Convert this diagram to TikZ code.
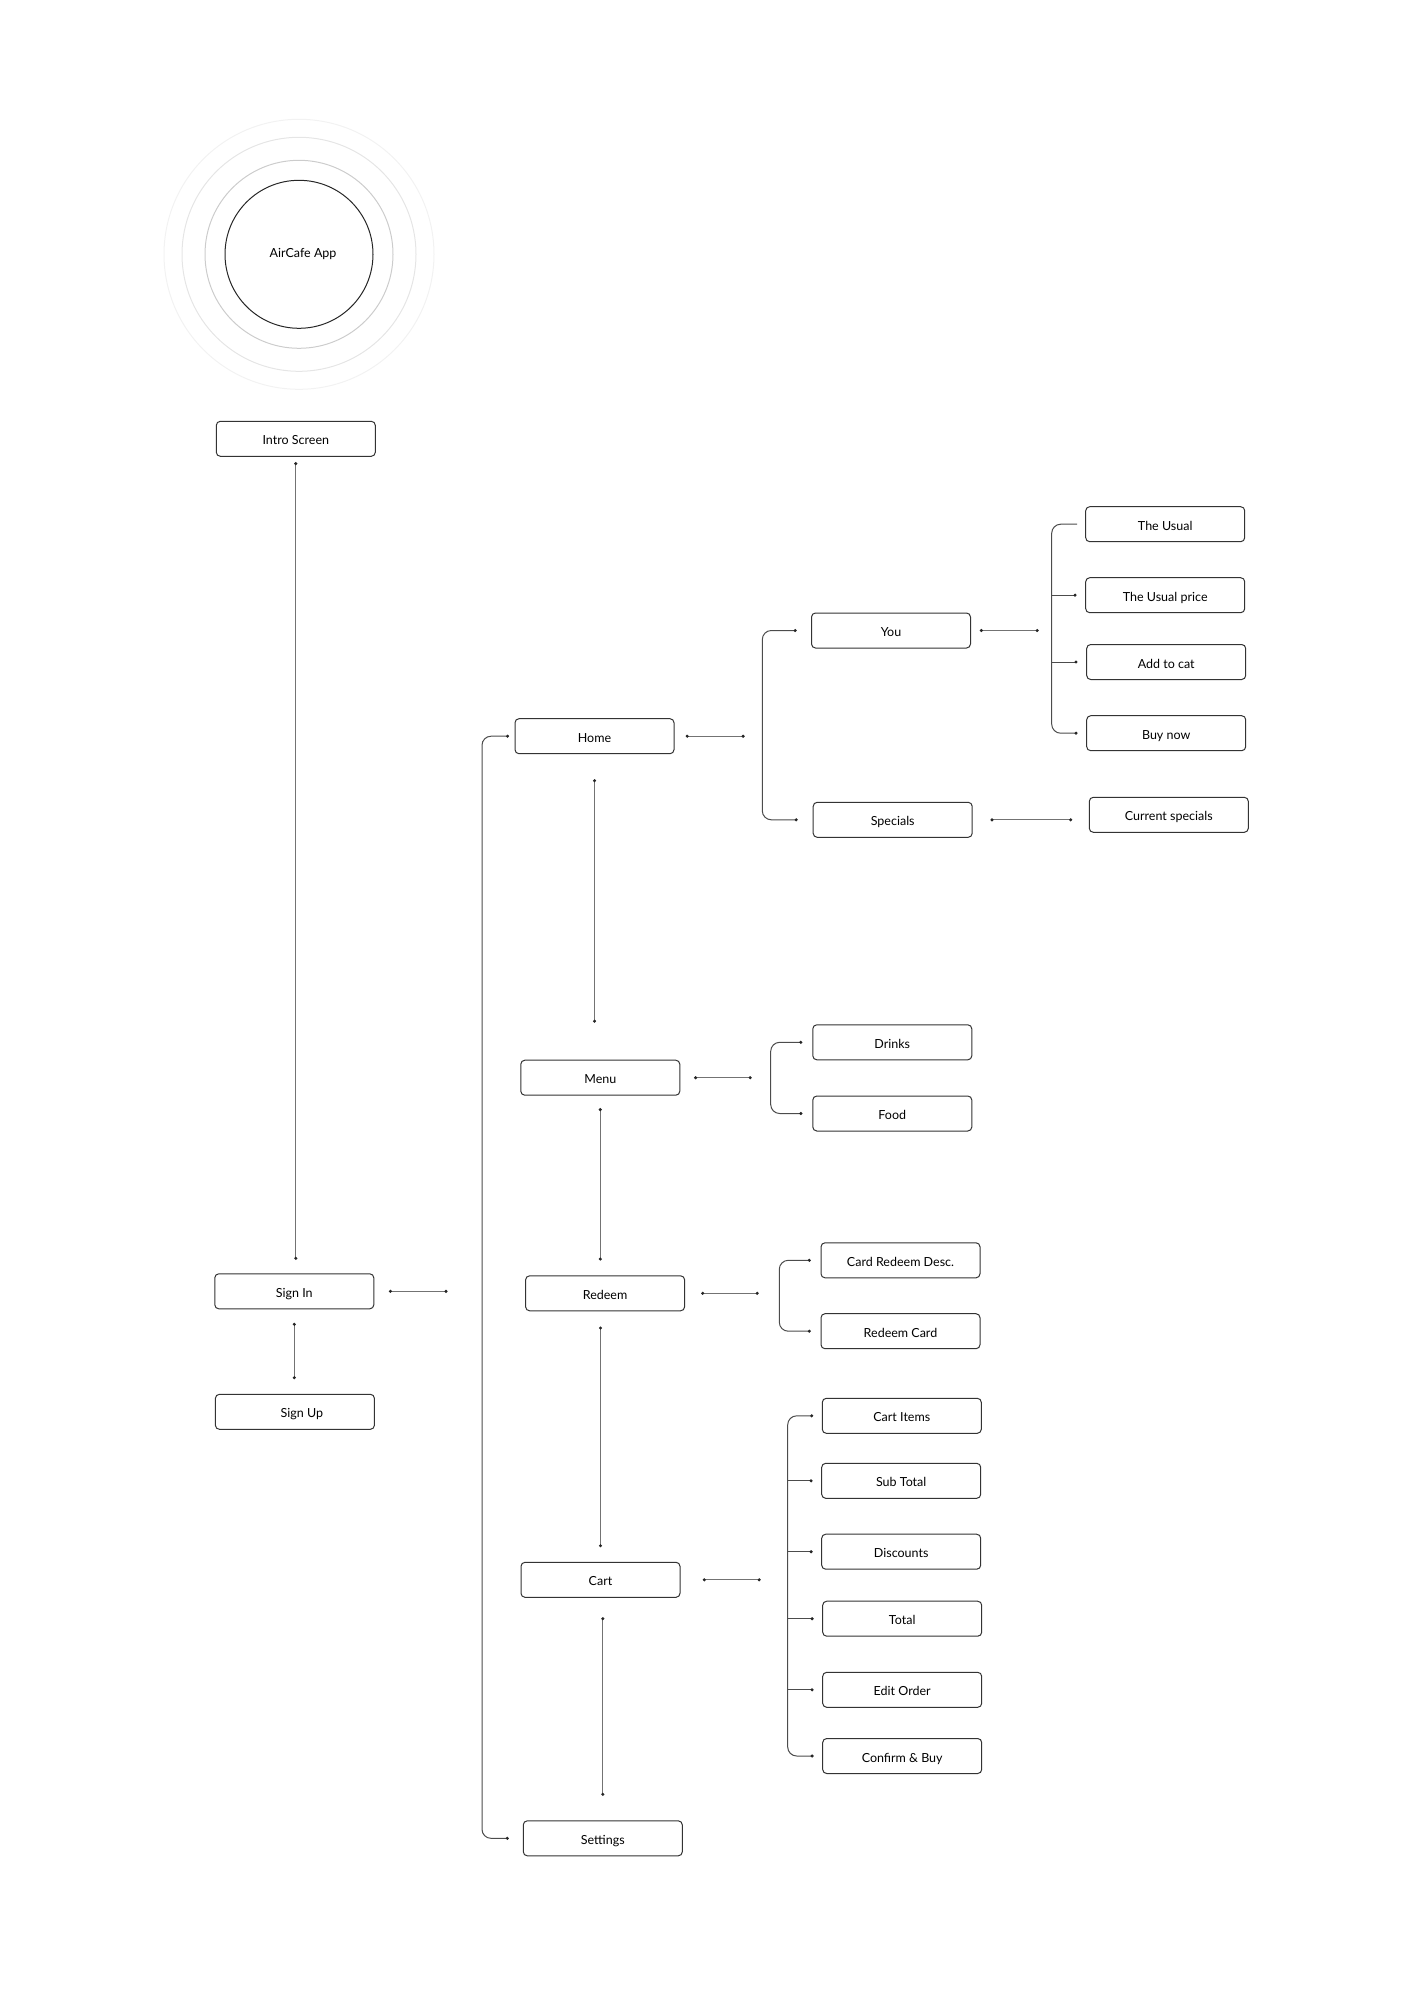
\documentclass[tikz,border=0pt]{standalone}
\usepackage{fontspec}
\setmainfont{Lato}
\usetikzlibrary{arrows.meta}

\begin{document}
\begin{tikzpicture}
[every node/.style={inner sep=0pt, font=\fontsize{12.5}{15}\selectfont},
 screen/.style={rectangle, rounded corners=4pt, minimum width=159pt, minimum height=35pt, text height=12pt, text depth=0pt, fill=white, line width=1pt, draw=black!80},
 link/.style={line width=1pt, color=black!55, {Circle[length=3pt, color=black!85]}-{Circle[length=3pt, color=black!85]}},
 branch/.style={line width=1pt, color=black!70, rounded corners=9pt, -{Circle[length=3pt, color=black!85]}},
 ring/.style={line width=1pt}]
\useasboundingbox (0pt, 0pt) rectangle (1401pt, -2010pt);
% app circle
\node (app) [circle, minimum size=148pt, line width=1pt, draw=black!85] at (299pt, -254.3pt) {\hspace*{8pt}AirCafe App};
\draw [ring, color=black!20] (app.center) circle (94pt);
\draw [ring, color=black!10] (app.center) circle (117pt);
\draw [ring, color=black!5] (app.center) circle (135pt);
% screens
\node (intro) [screen] at (295.8pt, -438.8pt) {Intro Screen};
\node (signin) [screen] at (294.3pt, -1291.3pt) {Sign In};
\node (signup) [screen] at (294.9pt, -1411.8pt) {\hspace*{14pt}Sign Up};
\node (home) [screen] at (594.5pt, -736.2pt) {Home};
\node (menu) [screen] at (600.3pt, -1077.7pt) {Menu};
\node (redeem) [screen] at (605.1pt, -1293.3pt) {Redeem};
\node (cart) [screen] at (600.5pt, -1579.8pt) {Cart};
\node (settings) [screen] at (602.8pt, -1838.3pt) {Settings};
\node (you) [screen] at (891pt, -630.5pt) {You};
\node (specials) [screen] at (892.7pt, -819.8pt) {Specials};
\node (usual) [screen] at (1165.2pt, -524.2pt) {The Usual};
\node (usualprice) [screen] at (1165.2pt, -595.2pt) {The Usual price};
\node (addcart) [screen] at (1166.2pt, -662pt) {Add to cat};
\node (buynow) [screen] at (1166.2pt, -733.2pt) {Buy now};
\node (current) [screen] at (1168.8pt, -814.8pt) {Current specials};
\node (drinks) [screen] at (892.3pt, -1042.3pt) {Drinks};
\node (food) [screen] at (892.3pt, -1113.5pt) {Food};
\node (carddesc) [screen] at (900.5pt, -1260.3pt) {Card Redeem Desc.};
\node (redeemcard) [screen] at (900.5pt, -1331.2pt) {Redeem Card};
\node (cartitems) [screen] at (901.8pt, -1415.8pt) {Cart Items};
\node (subtotal) [screen] at (901.2pt, -1480.8pt) {Sub Total};
\node (discounts) [screen] at (901.2pt, -1551.7pt) {Discounts};
\node (total) [screen] at (902.2pt, -1618.7pt) {Total};
\node (editorder) [screen] at (902.2pt, -1689.8pt) {Edit Order};
\node (confirm) [screen] at (902.2pt, -1756pt) {Confirm \& Buy};
% bracket spines
\coordinate (mainbus) at (482pt, -1292pt);
\coordinate (homebus) at (762.3pt, -736.2pt);
\coordinate (youbus) at (1051.7pt, -630.5pt);
\coordinate (menubus) at (770.7pt, -1077.7pt);
\coordinate (redeembus) at (779.3pt, -1293.3pt);
\coordinate (cartbus) at (787.7pt, -1579.8pt);
% vertical links
\draw [link, shorten <=5.3pt, shorten >=13.5pt] (intro.south) -- (intro.south |- signin.north);
\draw [link, shorten <=13.5pt, shorten >=14.6pt] (signin.south) -- (signin.south |- signup.north);
\draw [link, shorten <=25pt, shorten >=37pt] (home.south) -- (home.south |- menu.north);
\draw [link, shorten <=12.4pt, shorten >=14.8pt] (menu.south) -- (menu.south |- redeem.north);
\draw [link, shorten <=15.2pt, shorten >=14.6pt] (redeem.south -| cart.north) -- (cart.north);
\draw [link, shorten <=19.4pt, shorten >=24.5pt] (cart.south -| settings.north) -- (settings.north);
% horizontal links
\draw [link, shorten <=14.6pt, shorten >=34.5pt] (signin.east) -- (signin.east -| mainbus);
\draw [link, shorten <=11.2pt, shorten >=17.7pt] (home.east) -- (home.east -| homebus);
\draw [link, shorten <=8.8pt, shorten >=13pt] (you.east) -- (you.east -| youbus);
\draw [link, shorten <=17.8pt, shorten >=16.6pt] (specials.east) -- (specials.east -| current.west);
\draw [link, shorten <=13.8pt, shorten >=19pt] (menu.east) -- (menu.east -| menubus);
\draw [link, shorten <=16.1pt, shorten >=20.6pt] (redeem.east) -- (redeem.east -| redeembus);
\draw [link, shorten <=22.3pt, shorten >=27pt] (cart.east) -- (cart.east -| cartbus);
% brackets
\draw [branch, {Circle[length=3pt, color=black!85]}-{Circle[length=3pt, color=black!85]}] ([xshift=-5.5pt]home.west) -| (mainbus) |- ([xshift=-14pt]settings.west);
\draw [branch, {Circle[length=3pt, color=black!85]}-{Circle[length=3pt, color=black!85]}] ([xshift=-14.3pt]you.west) -| (homebus) |- ([xshift=-15pt]specials.west);
\draw [branch] ([xshift=-8pt]usual.west) -| (youbus) |- ([xshift=-8.7pt]buynow.west);
\draw [branch] (youbus |- usualprice) -- ([xshift=-8.7pt]usualprice.west);
\draw [branch] (youbus |- addcart) -- ([xshift=-8.7pt]addcart.west);
\draw [branch, {Circle[length=3pt, color=black!85]}-{Circle[length=3pt, color=black!85]}] ([xshift=-10pt]drinks.west) -| (menubus) |- ([xshift=-10pt]food.west);
\draw [branch, {Circle[length=3pt, color=black!85]}-{Circle[length=3pt, color=black!85]}] ([xshift=-9.7pt]carddesc.west) -| (redeembus) |- ([xshift=-9.7pt]redeemcard.west);
\draw [branch, {Circle[length=3pt, color=black!85]}-{Circle[length=3pt, color=black!85]}] ([xshift=-8.6pt]cartitems.west) -| (cartbus) |- ([xshift=-8.6pt]confirm.west);
\draw [branch] (cartbus |- subtotal) -- ([xshift=-8.6pt]subtotal.west);
\draw [branch] (cartbus |- discounts) -- ([xshift=-8.6pt]discounts.west);
\draw [branch] (cartbus |- total) -- ([xshift=-8.6pt]total.west);
\draw [branch] (cartbus |- editorder) -- ([xshift=-8.6pt]editorder.west);
\end{tikzpicture}
\end{document}
